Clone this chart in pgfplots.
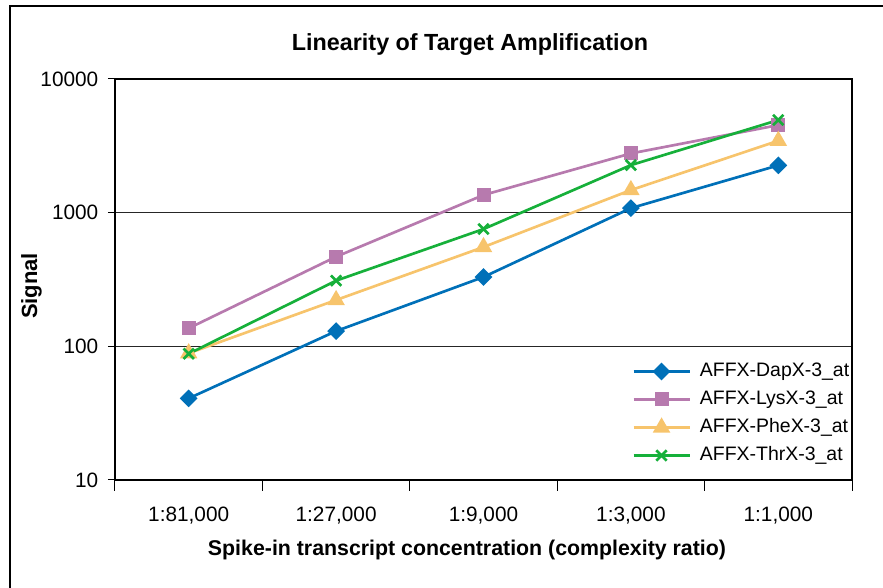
\documentclass[border=0pt]{standalone}
\usepackage{fontspec}
\setmainfont{Liberation Sans}
\usepackage{pgfplots}
\pgfplotsset{compat=1.18}
\definecolor{cDap}{RGB}{0,112,184}
\definecolor{cLys}{RGB}{183,122,174}
\definecolor{cPhe}{RGB}{247,196,108}
\definecolor{cThr}{RGB}{22,176,58}
\begin{document}
\begin{tikzpicture}[x=0.75pt,y=0.75pt]
\useasboundingbox (0,0) rectangle (883,588);
\draw[line width=1.5pt] (10,0) -- (10,582) -- (883,582);
\begin{axis}[
  at={(86.25pt,81pt)}, anchor=south west, scale only axis,
  width=552.75pt, height=300.75pt,
  xmin=0.5, xmax=5.5,
  ymode=log, ymin=10, ymax=10000,
  xtick={1,2,3,4,5},
  xticklabels={{1:81,000},{1:27,000},{1:9,000},{1:3,000},{1:1,000}},
  minor xtick={0.5,1.5,2.5,3.5,4.5,5.5},
  ytick={10,100,1000,10000},
  yticklabels={10,100,1000,10000},
  yminorticks=false,
  tick align=outside,
  major tick length=5.25pt,
  minor tick length=8.25pt,
  major x tick style={draw=none},
  minor x tick style={black, line width=0.75pt},
  major y tick style={black, line width=0.75pt},
  ymajorgrids,
  grid style={black!85, line width=0.75pt},
  axis line style={black, line width=1.1pt},
  xtick pos=bottom, ytick pos=left,
  /pgf/number format/assume math mode=true,
  tick label style={font=\fontsize{15.6}{18}\selectfont},
  xticklabel style={yshift=-11.5pt},
  yticklabel style={xshift=-3.75pt},
  title={\bfseries Linearity of Target Amplification},
  title style={at={(rel axis cs:0.4817,1.0523)}, anchor=base, font=\fontsize{17.5}{20}\selectfont},
  xlabel={\bfseries Spike-in transcript concentration (complexity ratio)},
  xlabel style={at={(rel axis cs:0.4776,-0.1895)}, anchor=base, font=\fontsize{16}{19}\selectfont},
  ylabel={\bfseries Signal},
  ylabel style={at={(rel axis cs:-0.1058,0.4838)}, anchor=base, font=\fontsize{16.5}{19}\selectfont},
  legend style={at={(rel axis cs:0.696,0.2995)}, anchor=north west, draw=none, fill=none,
    font=\fontsize{14.6}{17}\selectfont, row sep=8pt,
    nodes={inner sep=0pt, text height=10pt, text depth=3pt},
    /tikz/every odd column/.append style={column sep=6.75pt}},
  legend cell align=left,
  legend image code/.code={\draw[mark repeat=2,mark phase=2,#1] plot coordinates {(0pt,0pt) (21pt,0pt) (42pt,0pt)};},
  every axis plot/.append style={line width=2pt},
]
\addplot[cDap, mark=square*, mark size=3.7pt, mark options={rotate=45, solid}] coordinates {(1,40.8) (2,130) (3,330) (4,1081) (5,2259)};
\addlegendentry{AFFX-DapX-3\_at}
\addplot[cLys, mark=square*, mark size=4.25pt] coordinates {(1,136.5) (2,468) (3,1355) (4,2774) (5,4520)};
\addlegendentry{AFFX-LysX-3\_at}
\addplot[cPhe, mark=triangle*, mark size=5.6pt] coordinates {(1,88.7) (2,222) (3,553) (4,1476) (5,3450)};
\addlegendentry{AFFX-PheX-3\_at}
\addplot[cThr, mark=x, mark size=5.5pt] coordinates {(1,88) (2,310) (3,754) (4,2268) (5,4930)};
\addlegendentry{AFFX-ThrX-3\_at}
\draw[black, line width=1.9pt] (rel axis cs:0,0) -- (rel axis cs:1,0);
\end{axis}
\end{tikzpicture}
\end{document}
